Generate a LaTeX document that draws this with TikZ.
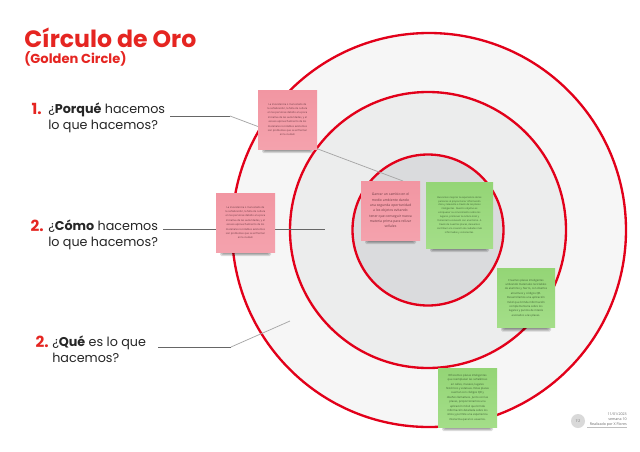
\documentclass[tikz,border=0pt]{standalone}
\usepackage{fontspec}
\setmainfont{Poppins}
\newfontfamily\notefont{Open Sans}
\definecolor{ringred}{HTML}{E2001A}
\definecolor{titlered}{HTML}{E52521}
\definecolor{pinktop}{HTML}{F296A2}
\definecolor{pinkbot}{HTML}{F4A2AD}
\definecolor{greentop}{HTML}{94D576}
\definecolor{greenbot}{HTML}{A4DE89}
\definecolor{pinktext}{HTML}{6E3A44}
\definecolor{greentext}{HTML}{3C5F32}
\definecolor{ringa}{HTML}{F6F6F6}
\definecolor{ringb}{HTML}{ECEDED}
\definecolor{ringc}{HTML}{DADBDD}
\tikzset{
 x=0.75pt,y=-0.75pt,
 ring/.style={circle,draw=ringred,line width=1.75pt,inner sep=0pt},
 lead/.style={draw=black!60,line width=0.55pt},
 leadlight/.style={draw=black!35,line width=0.55pt},
 num/.style={anchor=base east,inner sep=0pt,text=titlered,font=\fontsize{11.5}{12}\selectfont\bfseries},
 ask/.style={anchor=base west,text=black!85,font=\fontsize{9.55}{11.6}\selectfont,align=left,inner sep=0pt},
 note/.style={inner sep=0pt,align=center},
 pinkn/.style={note,top color=pinktop,bottom color=pinkbot,text=pinktext},
 greenn/.style={note,top color=greentop,bottom color=greenbot,text=greentext}
}
% style, name, cx, cy, w, h, font size, line skip, text
\newcommand{\notebox}[9]{%
 \foreach \d in {1,2,3,4}{\fill[black,opacity=.13,rounded corners=1pt] (#3-#5/2+3+\d,#4+#6/2-2) rectangle (#3+#5/2-3-\d,#4+#6/2+5-\d);}
 \node[#1,minimum width=#5*0.75pt,minimum height=#6*0.75pt,font=\notefont\fontsize{#7}{#8}\selectfont] (#2) at (#3,#4) {#9};}
\begin{document}
\begin{tikzpicture}
\useasboundingbox (0,0) rectangle (640,451);
\fill[white] (0,0) rectangle (640,451);
\node[ring,fill=ringa,minimum size=394*0.75pt] (outer) at (429,230) {};
\node[ring,fill=ringb,minimum size=276*0.75pt] (middle) at (428,230) {};
\node[ring,fill=ringc,minimum size=151*0.75pt] (inner) at (428,230) {};

\coordinate (a1) at (170,116);
\coordinate (w1) at (230,116);
\coordinate (w1e) at (403,181);
\coordinate (a2) at (163,229);
\coordinate (w2e) at (325,229);
\coordinate (a3) at (158,347);
\coordinate (w3m) at (231,347);
\coordinate (w3e) at (290,321);
\draw[lead] (a1) -- (w1);
\draw[leadlight] (w1) -- (w1e);
\draw[lead] (a2) -- (w2e);
\draw[lead] (a3) -- (w3m);
\draw[leadlight] (w3m) -- (w3e);

\node[anchor=base west,inner sep=0pt,text=titlered,font=\fontsize{17.7}{20}\selectfont\bfseries] (title) at (24,47) {Círculo de Oro};
\node[anchor=base west,inner sep=0pt,text=titlered,font=\fontsize{9.8}{12}\selectfont\bfseries] (subtitle) at (24,63) {(Golden Circle)};

\node[num] (n1) at (42,114) {1.};
\node[ask] (q1) at (48,129) {¿\textbf{Porqué} hacemos\\lo que hacemos?};
\node[num] (n2) at (44,231) {2.};
\node[ask] (q2) at (48,246) {¿\textbf{Cómo} hacemos\\lo que hacemos?};
\node[num] (n3) at (49,347) {2.};
\node[ask] (q3) at (52,362) {¿\textbf{Qué} es lo que\\hacemos?};

\notebox{pinkn}{p1}{287.5}{119.5}{59}{59}{1.95}{3.3}{La inexistencia o mal estado de\\la señalización, la falta de cultura\\en las personas debido a la poca\\iniciativa de las autoridades, y el\\escaso aprovechamiento de los\\materiales reciclables existentes\\son problemas que se enfrentan\\en la ciudad.}
\notebox{pinkn}{p2}{245.5}{222.5}{59}{59}{1.95}{3.3}{La inexistencia o mal estado de\\la señalización, la falta de cultura\\en las personas debido a la poca\\iniciativa de las autoridades, y el\\escaso aprovechamiento de los\\materiales reciclables existentes\\son problemas que se enfrentan\\en la ciudad.}
\notebox{pinkn}{p3}{390.5}{210.5}{59}{59}{2.55}{4}{Ganrar un cambio en el\\medio ambiente dando\\una segunda oportunidad\\a los objetos evitando\\tener que conseguir nueva\\materia prima para relizar\\señales}
\notebox{greenn}{g1}{459.5}{215}{67}{66}{1.8}{2.9}{Buscamos mejorar la experiencia de las\\personas al proporcionar información\\clara y relevante a través de las placas\\inteligentes. Nuestro objetivo es\\enriquecer su conocimiento sobre los\\lugares, promover la cultura local y\\fomentar la conexión con el entorno. A\\través de nuestras placas, deseamos\\contribuir a la creación de ciudades más\\informadas y conscientes.}
\notebox{greenn}{g2}{526}{298}{58}{59}{2.05}{3.3}{Creamos placas inteligentes\\utilizando materiales reciclables\\de aluminio y hierro, con diseños\\atractivos y códigos QR.\\Desarrollamos una aplicación\\móvil que brinda información\\complementaria sobre los\\lugares y puntos de interés\\asociados a las placas.}
\notebox{greenn}{g3}{467.5}{397.5}{59}{59}{2.05}{3.3}{Ofrecemos placas inteligentes\\que reemplazan las señaléticas\\en calles, museos, lugares\\históricos y estatuas. Estas placas\\cuentan con códigos QR y\\diseños llamativos. Junto con las\\placas, proporcionamos una\\aplicación móvil que brinda\\información detallada sobre los\\sitios y permite una experiencia\\interactiva para los usuarios.}

\node[circle,fill=black!15,minimum size=14*0.75pt,inner sep=0pt,text=black!55,font=\fontsize{2.6}{3}\selectfont] (logo) at (578,421) {T·Z};
\node[anchor=north east,inner sep=0pt,align=right,text=black!60,font=\notefont\fontsize{2.7}{3.6}\selectfont] (credit) at (627,413) {11/01/2023\\semana 10\\Realizado por X Flores};
\coordinate (ul) at (587,427.5);
\coordinate (ur) at (627,427.5);
\draw[black!25,line width=0.3pt] (ul) -- (ur);
\end{tikzpicture}
\end{document}
